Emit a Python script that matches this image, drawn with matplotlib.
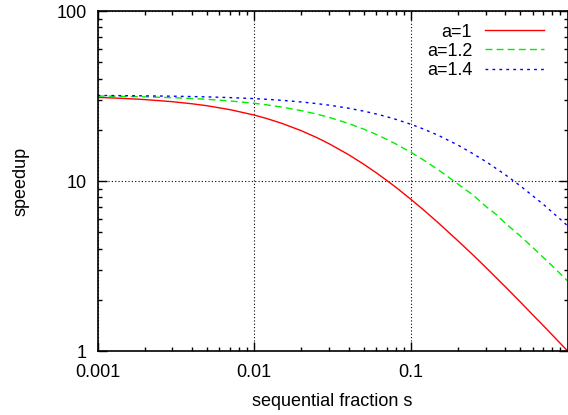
import matplotlib
matplotlib.use("Agg")
import matplotlib.pyplot as plt
from matplotlib.ticker import LogLocator, FixedLocator, FixedFormatter, NullFormatter

plt.rcParams['font.family'] = ['Liberation Sans', 'DejaVu Sans']

# sequential fraction s
s = [0.001, 0.0015, 0.002, 0.003, 0.004, 0.005, 0.007, 0.01, 0.012, 0.015,
     0.02, 0.025, 0.03, 0.04, 0.05, 0.06, 0.07, 0.08, 0.1, 0.12,
     0.15, 0.2, 0.25, 0.3, 0.35, 0.4, 0.5, 0.6, 0.7, 0.8,
     0.9, 1.0]

# speedup for each a
speedup_a10 = [31.04, 30.58, 30.13, 29.28, 28.47, 27.71, 26.29, 24.43, 23.32, 21.84,
               19.75, 18.03, 16.58, 14.29, 12.55, 11.19, 10.09, 9.20, 7.80, 6.78,
               5.66, 4.44, 3.66, 3.11, 2.70, 2.39, 1.94, 1.63, 1.41, 1.24,
               1.107, 1.00]
speedup_a12 = [31.63, 31.45, 31.27, 30.92, 30.57, 30.23, 29.58, 28.65, 28.06, 27.22,
               25.93, 24.76, 23.69, 21.80, 20.19, 18.80, 17.59, 16.53, 14.75, 13.31,
               11.62, 9.58, 8.25, 7.10, 6.36, 5.65, 4.74, 4.06, 3.55, 3.16,
               2.84, 2.58]
speedup_a14 = [31.85, 31.77, 31.69, 31.54, 31.39, 31.24, 30.95, 30.52, 30.24, 29.83,
               29.17, 28.54, 27.94, 26.81, 25.76, 24.79, 23.90, 23.06, 21.56, 20.24,
               18.53, 16.25, 14.44, 13.04, 11.84, 10.89, 9.35, 8.17, 7.29, 6.54,
               5.95, 5.45]

labels = ['a=1', 'a=1.2', 'a=1.4']
xticks = [0.001, 0.01, 0.1]
xticklabels = ['0.001', '0.01', '0.1']
yticks = [1, 10, 100]
yticklabels = ['1', '10', '100']

fs = 13

fig = plt.figure(figsize=(5.68, 4.15), dpi=100)
ax = fig.add_axes([97.5 / 568, 1 - 351 / 415, (567.6 - 97.5) / 568, (351 - 11) / 415])

ax.plot(s, speedup_a10, color='#ff0000', lw=1.0, ls='-', label=labels[0])
ax.plot(s, speedup_a12, color='#00ee00', lw=1.0, ls=(0, (5, 3)), label=labels[1])
ax.plot(s, speedup_a14, color='#0000ff', lw=1.0, ls=(0, (2, 3)), label=labels[2])

ax.set_xscale('log')
ax.set_yscale('log')
ax.set_xlim(0.001, 1)
ax.set_ylim(1, 100)

ax.xaxis.set_major_locator(FixedLocator(xticks))
ax.xaxis.set_major_formatter(FixedFormatter(xticklabels))
ax.yaxis.set_major_locator(FixedLocator(yticks))
ax.yaxis.set_major_formatter(FixedFormatter(yticklabels))
ax.xaxis.set_minor_locator(LogLocator(base=10, subs=range(2, 10)))
ax.yaxis.set_minor_locator(LogLocator(base=10, subs=range(2, 10)))
ax.xaxis.set_minor_formatter(NullFormatter())
ax.yaxis.set_minor_formatter(NullFormatter())

ax.tick_params(which='both', direction='in', top=True, right=True, width=1.0,
               labelsize=fs, colors='black')
ax.tick_params(which='major', length=6.5)
ax.tick_params(which='minor', length=3.2)
ax.tick_params(axis='x', which='major', pad=9)
ax.tick_params(axis='y', which='major', pad=8)

ax.grid(True, which='major', color='black', ls=(0, (1, 2)), lw=0.8)

for sp in ax.spines.values():
    sp.set_linewidth(1.2)

ax.set_xlabel('sequential fraction s', fontsize=fs, labelpad=9)
ax.set_ylabel('speedup', fontsize=fs, labelpad=19)

ax.legend(loc='upper right', bbox_to_anchor=(557 / 568, 1 - 11 / 415),
          bbox_transform=fig.transFigure, frameon=False, fontsize=fs,
          markerfirst=False, handlelength=3.3, handletextpad=0.7,
          labelspacing=0.12, borderpad=0.2)

fig.savefig('out.png', dpi=100)
